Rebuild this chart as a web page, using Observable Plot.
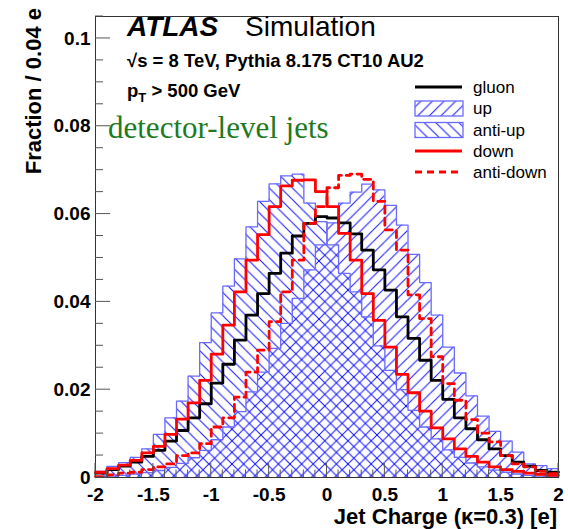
<!DOCTYPE html>
<html><head><meta charset="utf-8">
<script src="https://cdn.jsdelivr.net/npm/d3@7"></script>
<script src="https://cdn.jsdelivr.net/npm/@observablehq/plot@0.6"></script>
<style>body{margin:0;background:#fff;} svg{display:block}</style>
</head><body><div id="chart"></div>
<script>
// ---- data ----
const binWidth = 0.1;
const xRange = [-2, 2];
const xTickLabels = [-2, -1.5, -1, -0.5, 0, 0.5, 1, 1.5, 2];
const yTickLabels = [0, 0.02, 0.04, 0.06, 0.08, 0.1];
const gluon = [0.0010,0.0018,0.0026,0.0035,0.0048,0.0062,0.0083,0.0107,0.0136,0.0168,
  0.0215,0.0258,0.0313,0.0370,0.0419,0.0465,0.0511,0.0550,0.0579,0.0594,
  0.0591,0.0580,0.0555,0.0518,0.0473,0.0427,0.0366,0.0317,0.0267,0.0221,
  0.0178,0.0136,0.0111,0.0086,0.0065,0.0050,0.0035,0.0026,0.0016,0.0012];
const up = [0.0002,0.0003,0.0005,0.0008,0.0011,0.0016,0.0023,0.0032,0.0045,0.0062,
  0.0086,0.0115,0.0150,0.0195,0.0240,0.0294,0.0351,0.0408,0.0473,0.0530,
  0.0580,0.0625,0.0650,0.0668,0.0655,0.0620,0.0575,0.0508,0.0444,0.0370,
  0.0297,0.0238,0.0186,0.0140,0.0105,0.0083,0.0058,0.0031,0.0027,0.0020];
const antiUp = [0.0014,0.0025,0.0034,0.0046,0.0065,0.0098,0.0136,0.0174,0.0231,0.0307,
  0.0375,0.0436,0.0498,0.0571,0.0629,0.0669,0.0687,0.0691,0.0625,0.0583,
  0.0530,0.0465,0.0423,0.0366,0.0300,0.0244,0.0200,0.0153,0.0115,0.0088,
  0.0063,0.0046,0.0033,0.0024,0.0017,0.0012,0.0008,0.0005,0.0003,0.0002];
const down = [0.0012,0.0020,0.0028,0.0039,0.0056,0.0071,0.0098,0.0133,0.0170,0.0221,
  0.0281,0.0347,0.0423,0.0495,0.0553,0.0617,0.0664,0.0677,0.0678,0.0651,
  0.0617,0.0556,0.0495,0.0419,0.0358,0.0297,0.0235,0.0193,0.0151,0.0113,
  0.0088,0.0065,0.0048,0.0035,0.0024,0.0018,0.0014,0.0010,0.0007,0.0005];
const antiDown = [0.0002,0.0006,0.0010,0.0012,0.0018,0.0024,0.0031,0.0050,0.0056,0.0077,
  0.0115,0.0136,0.0183,0.0240,0.0290,0.0355,0.0423,0.0495,0.0579,0.0617,
  0.0660,0.0688,0.0691,0.0679,0.0629,0.0564,0.0518,0.0416,0.0362,0.0275,
  0.0214,0.0176,0.0132,0.0101,0.0081,0.0050,0.0031,0.0024,0.0014,0.0009];
const legendLabels = ["gluon", "up", "anti-up", "down", "anti-down"];

// ---- helpers ----
const nBins = gluon.length;
const binLow = d3.range(nBins).map(i => +(xRange[0] + i * binWidth).toFixed(2));
function table(vals) {
  return vals.map((v, i) => ({x1: binLow[i], x2: +(binLow[i] + binWidth).toFixed(2), y1: 0, y2: v}));
}
function stepPts(vals, close) {
  const pts = vals.map((v, i) => ({x: binLow[i], v}));
  pts.push({x: xRange[1], v: vals[vals.length - 1]});
  if (close) { pts.unshift({x: xRange[0], v: 0}); pts.push({x: xRange[1], v: 0}); }
  return pts;
}
const BLUE = "#1010ff", OUTLINE = "#6a6aff", RED = "#ff0000";
const FONT = "'Liberation Sans', Arial, Helvetica, sans-serif";

const chart = Plot.plot({
  width: 568, height: 529,
  marginLeft: 95, marginRight: 10, marginTop: 16, marginBottom: 52,
  style: {background: "#fff", fontFamily: FONT, overflow: "visible"},
  x: {domain: xRange, label: null},
  y: {domain: [0, 0.105], label: null},
  marks: [
    Plot.rect(table(up), {x1: "x1", x2: "x2", y1: "y1", y2: "y2", fill: "url(#hatchUp)"}),
    Plot.rect(table(antiUp), {x1: "x1", x2: "x2", y1: "y1", y2: "y2", fill: "url(#hatchAntiUp)"}),
    Plot.line(stepPts(up, true), {x: "x", y: "v", curve: "step-after", stroke: OUTLINE, strokeWidth: 1.3}),
    Plot.line(stepPts(antiUp, true), {x: "x", y: "v", curve: "step-after", stroke: OUTLINE, strokeWidth: 1.3}),
    Plot.line(stepPts(gluon), {x: "x", y: "v", curve: "step-after", stroke: "#000", strokeWidth: 2.8}),
    Plot.line(stepPts(down), {x: "x", y: "v", curve: "step-after", stroke: RED, strokeWidth: 2.8}),
    Plot.line(stepPts(antiDown), {x: "x", y: "v", curve: "step-after", stroke: RED, strokeWidth: 2.8, strokeDasharray: "7,5"}),
    Plot.axisX({ticks: xTickLabels, tickSize: 0, tickPadding: 10, tickFormat: d => String(d), label: null,
      fontSize: 19, fontWeight: "bold", fill: "#000"}),
    Plot.axisY({ticks: yTickLabels, tickSize: 0, tickPadding: 5, tickFormat: d => String(d), label: null,
      fontSize: 19, fontWeight: "bold", fill: "#000"}),
    Plot.frame({stroke: "#333"})
  ]
});
document.getElementById("chart").appendChild(chart);

const svg = d3.select(chart);
const sx = chart.scale("x"), sy = chart.scale("y");

// hatch patterns
const defs = svg.insert("defs", ":first-child");
function hatch(id, forward) {
  const s = 11.6;
  const d = forward
    ? `M0,${s}L${s},0M-1,1L1,-1M${s-1},${s+1}L${s+1},${s-1}`
    : `M0,0L${s},${s}M-1,${s-1}L1,${s+1}M${s-1},-1L${s+1},1`;
  defs.append("pattern").attr("id", id).attr("patternUnits", "userSpaceOnUse")
    .attr("width", s).attr("height", s)
    .append("path").attr("d", d).attr("stroke", BLUE).attr("stroke-width", 1).attr("fill", "none");
}
hatch("hatchUp", true);
hatch("hatchAntiUp", false);

// inside ticks (ROOT style) using the plot's scales
const tickG = svg.append("g").attr("stroke", "#555").attr("stroke-width", 1);
const y0 = sy.apply(0), x0 = sx.apply(-2);
d3.range(-20, 21).forEach(k => {
  const v = k / 10, major = k % 5 === 0;
  const px = sx.apply(v);
  tickG.append("line").attr("x1", px).attr("x2", px).attr("y1", y0).attr("y2", y0 - (major ? 14 : 7.5));
});
d3.range(0, 22).forEach(k => {
  const v = k * 0.005, major = k % 4 === 0;
  const py = sy.apply(v);
  tickG.append("line").attr("x1", x0).attr("x2", x0 + (major ? 15 : 8)).attr("y1", py).attr("y2", py);
});

// text layer (explicit anchors; Plot's svg defaults to middle)
const tg = svg.append("g").attr("text-anchor", "start").attr("font-family", FONT).attr("fill", "#000");

// axis titles
tg.append("text").attr("x", 557).attr("y", 524).attr("text-anchor", "end")
  .attr("font-weight", "bold").attr("font-size", 22)
  .text("Jet Charge (κ=0.3) [e]");
tg.append("text").attr("transform", "translate(41,8) rotate(-90)").attr("text-anchor", "end")
  .attr("font-weight", "bold").attr("font-size", 22)
  .text("Fraction / 0.04 e");

// annotations
tg.append("text").attr("x", 127).attr("y", 36)
  .attr("font-weight", "bold").attr("font-style", "italic").attr("font-size", 28).text("ATLAS");
tg.append("text").attr("x", 245).attr("y", 36)
  .attr("font-size", 28).text("Simulation");
tg.append("text").attr("x", 127).attr("y", 67)
  .attr("font-weight", "bold").attr("font-size", 18.5).text("√s = 8 TeV, Pythia 8.175 CT10 AU2");
const pt = tg.append("text").attr("x", 127).attr("y", 97)
  .attr("font-weight", "bold").attr("font-size", 18.5);
pt.append("tspan").text("p");
pt.append("tspan").attr("font-size", 13).attr("dy", 5).text("T");
pt.append("tspan").attr("dy", -5).text(" > 500 GeV");
tg.append("text").attr("x", 108).attr("y", 138).attr("font-family", "'Liberation Serif', 'Times New Roman', serif")
  .attr("font-size", 31).attr("fill", "#1e7a1e").text("detector-level jets");

// legend
const lg = svg.append("g").attr("font-family", FONT).attr("font-size", 17).attr("text-anchor", "start");
const rows = [87, 108.5, 130, 151, 172];
const lx1 = 415, lx2 = 462;
lg.append("line").attr("x1", lx1).attr("x2", lx2).attr("y1", rows[0]).attr("y2", rows[0]).attr("stroke", "#000").attr("stroke-width", 2.8);
lg.append("rect").attr("x", lx1).attr("y", rows[1] - 7.5).attr("width", lx2 - lx1 + 1).attr("height", 15)
  .attr("fill", "url(#hatchUp)").attr("stroke", OUTLINE).attr("stroke-width", 1.3);
lg.append("rect").attr("x", lx1).attr("y", rows[2] - 7.5).attr("width", lx2 - lx1 + 1).attr("height", 15)
  .attr("fill", "url(#hatchAntiUp)").attr("stroke", OUTLINE).attr("stroke-width", 1.3);
lg.append("line").attr("x1", lx1).attr("x2", lx2).attr("y1", rows[3]).attr("y2", rows[3]).attr("stroke", RED).attr("stroke-width", 2.8);
lg.append("line").attr("x1", lx1).attr("x2", lx2).attr("y1", rows[4]).attr("y2", rows[4]).attr("stroke", RED).attr("stroke-width", 2.8).attr("stroke-dasharray", "7,5");
legendLabels.forEach((t, i) => {
  lg.append("text").attr("x", 473).attr("y", rows[i]).attr("dy", "0.35em").text(t);
});
</script>
</body></html>
